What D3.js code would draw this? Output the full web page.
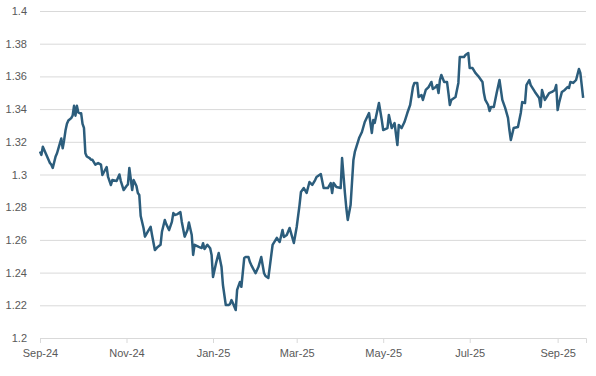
<!DOCTYPE html>
<html>
<head>
<meta charset="utf-8">
<script src="https://cdn.jsdelivr.net/npm/d3@7"></script>
<style>
  body { margin: 0; background: #fff; }
  .axis text { font-family: "Liberation Sans", Arial, sans-serif; font-size: 11px; fill: #595959; }
</style>
</head>
<body>
<div id="chart"></div>
<script>
// daily series
var dates = [
  "2024-09-01","2024-09-02","2024-09-03","2024-09-05","2024-09-07","2024-09-08","2024-09-09","2024-09-10",
  "2024-09-12","2024-09-13","2024-09-14","2024-09-16","2024-09-17","2024-09-18","2024-09-19","2024-09-20",
  "2024-09-21","2024-09-23","2024-09-24","2024-09-25","2024-09-26","2024-09-27","2024-09-28","2024-09-29",
  "2024-09-30","2024-10-01","2024-10-02","2024-10-03","2024-10-04","2024-10-06","2024-10-07","2024-10-08",
  "2024-10-10","2024-10-12","2024-10-14","2024-10-15","2024-10-18","2024-10-19","2024-10-21","2024-10-22",
  "2024-10-25","2024-10-27","2024-10-28","2024-10-30","2024-11-01","2024-11-02","2024-11-03","2024-11-05",
  "2024-11-06","2024-11-08","2024-11-09","2024-11-10","2024-11-11","2024-11-13","2024-11-14","2024-11-16",
  "2024-11-18","2024-11-19","2024-11-21","2024-11-23","2024-11-25","2024-11-26","2024-11-28","2024-11-29",
  "2024-12-01","2024-12-03","2024-12-04","2024-12-05","2024-12-07","2024-12-09","2024-12-10","2024-12-12",
  "2024-12-14","2024-12-15","2024-12-17","2024-12-18","2024-12-19","2024-12-22","2024-12-24","2024-12-25",
  "2024-12-26","2024-12-28","2024-12-30","2024-12-31","2025-01-01","2025-01-03","2025-01-05","2025-01-07",
  "2025-01-08","2025-01-10","2025-01-12","2025-01-13","2025-01-14","2025-01-15","2025-01-17","2025-01-18",
  "2025-01-20","2025-01-21","2025-01-23","2025-01-24","2025-01-26","2025-01-27","2025-01-28","2025-01-31",
  "2025-02-02","2025-02-04","2025-02-06","2025-02-07","2025-02-09","2025-02-10","2025-02-12","2025-02-15",
  "2025-02-17","2025-02-19","2025-02-20","2025-02-22","2025-02-24","2025-02-27","2025-03-01","2025-03-03",
  "2025-03-04","2025-03-06","2025-03-08","2025-03-10","2025-03-12","2025-03-14","2025-03-15","2025-03-18",
  "2025-03-20","2025-03-22","2025-03-23","2025-03-25","2025-03-26","2025-03-27","2025-03-29","2025-04-01",
  "2025-04-02","2025-04-04","2025-04-05","2025-04-06","2025-04-08","2025-04-10","2025-04-11","2025-04-14",
  "2025-04-16","2025-04-18","2025-04-21","2025-04-23","2025-04-24","2025-04-25","2025-04-28","2025-04-30",
  "2025-05-01","2025-05-04","2025-05-05","2025-05-07","2025-05-09","2025-05-11","2025-05-12","2025-05-14",
  "2025-05-16","2025-05-18","2025-05-20","2025-05-22","2025-05-23","2025-05-25","2025-05-26","2025-05-28",
  "2025-05-29","2025-05-31","2025-06-02","2025-06-04","2025-06-05","2025-06-07","2025-06-08","2025-06-09",
  "2025-06-10","2025-06-11","2025-06-13","2025-06-15","2025-06-16","2025-06-17","2025-06-18","2025-06-21",
  "2025-06-23","2025-06-24","2025-06-27","2025-06-28","2025-06-30","2025-07-01","2025-07-03","2025-07-05",
  "2025-07-07","2025-07-08","2025-07-10","2025-07-11","2025-07-12","2025-07-14","2025-07-15","2025-07-16",
  "2025-07-18","2025-07-20","2025-07-22","2025-07-24","2025-07-26","2025-07-28","2025-07-29","2025-07-30",
  "2025-08-01","2025-08-04","2025-08-06","2025-08-07","2025-08-09","2025-08-10","2025-08-12","2025-08-13",
  "2025-08-16","2025-08-19","2025-08-20","2025-08-21","2025-08-23","2025-08-26","2025-08-28","2025-08-30",
  "2025-08-31","2025-09-01","2025-09-02","2025-09-04","2025-09-06","2025-09-08","2025-09-09","2025-09-10",
  "2025-09-12","2025-09-14","2025-09-16","2025-09-17","2025-09-19"
];

var values = [
  1.314,1.312,1.317,1.313,1.309,1.307,1.306,1.304,
  1.311,1.313,1.316,1.322,1.316,1.321,1.327,1.331,
  1.333,1.3345,1.336,1.342,1.336,1.342,1.338,1.3375,
  1.3375,1.331,1.3285,1.313,1.311,1.310,1.309,1.309,
  1.306,1.307,1.306,1.2997,1.3046,1.2985,1.2936,1.2966,
  1.296,1.300,1.296,1.2905,1.293,1.294,1.304,1.2905,
  1.2966,1.293,1.2887,1.2875,1.2746,1.2673,1.262,1.265,
  1.268,1.263,1.2538,1.2557,1.257,1.265,1.2722,1.2697,
  1.266,1.271,1.2764,1.2752,1.2758,1.277,1.271,1.262,
  1.266,1.2707,1.263,1.2508,1.257,1.2557,1.255,1.258,
  1.2544,1.257,1.2549,1.2508,1.2373,1.2453,1.252,1.2434,
  1.2324,1.2202,1.2202,1.2208,1.2232,1.2214,1.2171,1.2294,
  1.2343,1.2313,1.2489,1.2495,1.2495,1.2465,1.2446,1.2396,
  1.2434,1.2495,1.2396,1.2379,1.2367,1.2434,1.2569,1.2612,
  1.2587,1.266,1.2618,1.263,1.2673,1.2581,1.2679,1.2813,
  1.2893,1.2917,1.2887,1.2954,1.2936,1.2966,1.2985,1.3003,
  1.2917,1.2917,1.2917,1.2948,1.2887,1.2948,1.2924,1.2917,
  1.3101,1.2887,1.2795,1.2722,1.2813,1.3089,1.3138,1.3223,
  1.326,1.3321,1.3376,1.3254,1.3333,1.3315,1.3437,1.3333,
  1.3272,1.3284,1.3364,1.3284,1.3315,1.318,1.3303,1.3284,
  1.3321,1.3376,1.3425,1.3535,1.356,1.356,1.3474,1.3486,
  1.3456,1.3517,1.3535,1.3566,1.3523,1.3535,1.3547,1.3498,
  1.3578,1.3609,1.3566,1.3566,1.3498,1.3425,1.3456,1.3474,
  1.356,1.3719,1.3719,1.3731,1.3743,1.3651,1.3651,1.3621,
  1.3602,1.359,1.3566,1.3498,1.3456,1.3425,1.3388,1.3413,
  1.3413,1.3498,1.3578,1.3456,1.3407,1.3346,1.3272,1.3211,
  1.3284,1.329,1.3376,1.3443,1.3437,1.3547,1.3578,1.3547,
  1.3505,1.3468,1.3413,1.3517,1.3456,1.3498,1.3505,1.3517,
  1.3547,1.3394,1.3437,1.3505,1.3517,1.3535,1.3529,1.3566,
  1.356,1.3578,1.3645,1.3621,1.3468
];

var yTicks = [1.2, 1.22, 1.24, 1.26, 1.28, 1.3, 1.32, 1.34, 1.36, 1.38, 1.4];
var xTicks = ["2024-09-01","2024-11-01","2025-01-01","2025-03-01","2025-05-01","2025-07-01","2025-09-01"];
var xDomain = ["2024-09-01", "2025-09-21"];

var parse = d3.timeParse("%Y-%m-%d");
var data = dates.map(function(d, i) { return {date: parse(d), value: values[i]}; });

// set the dimensions and margins of the graph
var margin = {top: 11, right: 10, bottom: 38, left: 40},
    width = 596 - margin.left - margin.right,
    height = 376 - margin.top - margin.bottom;

var svg = d3.select("#chart")
  .append("svg")
    .attr("width", 596)
    .attr("height", 376)
  .append("g")
    .attr("transform", "translate(" + margin.left + "," + margin.top + ")");

var x = d3.scaleTime()
  .domain(xDomain.map(parse))
  .range([0, width]);

var y = d3.scaleLinear()
  .domain([1.2, 1.4])
  .range([height, 0]);

// Y axis with gridlines
var yAxis = svg.append("g")
  .attr("class", "axis")
  .call(d3.axisLeft(y)
    .tickValues(yTicks)
    .tickSize(-width)
    .tickPadding(13)
    .tickFormat(function(d) { return String(+d.toFixed(2)); }));
yAxis.select(".domain").remove();
yAxis.selectAll("line").attr("stroke", "#d9d9d9");

// X axis
var xAxis = svg.append("g")
  .attr("class", "axis")
  .attr("transform", "translate(0," + height + ")")
  .call(d3.axisBottom(x)
    .tickValues(xTicks.map(parse))
    .tickSize(5)
    .tickPadding(6)
    .tickFormat(d3.timeFormat("%b-%y")));
xAxis.select(".domain").attr("stroke", "#d9d9d9");
xAxis.selectAll("line").attr("stroke", "#d9d9d9");

// the line
svg.append("path")
  .datum(data)
  .attr("fill", "none")
  .attr("stroke", "#2c5d7c")
  .attr("stroke-width", 2.5)
  .attr("stroke-linejoin", "round")
  .attr("d", d3.line()
    .x(function(d) { return x(d.date); })
    .y(function(d) { return y(d.value); }));
</script>
</body>
</html>
